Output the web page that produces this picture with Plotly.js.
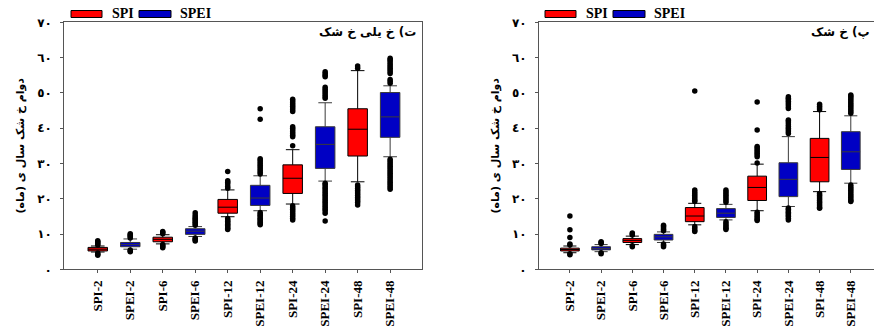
<!DOCTYPE html>
<html>
<head>
<meta charset="utf-8">
<script src="https://cdn.plot.ly/plotly-3.0.1.min.js"></script>
<style>
html,body{margin:0;padding:0;overflow:hidden;background:#fff;}
#chart{width:930px;height:331px;}
</style>
</head>
<body>
<div id="chart"></div>
<script>
// ---------- DATA ----------
const categories = ["SPI-2","SPEI-2","SPI-6","SPEI-6","SPI-12","SPEI-12","SPI-24","SPEI-24","SPI-48","SPEI-48"];
const yTickVals = [0,10,20,30,40,50,60,70];
const yTickText = ["٠","١٠","٢٠","٣٠","٤٠","٥٠","٦٠","٧٠"];
const seriesNames = ["SPI","SPEI"];

// Panel (ت) very dry  — left
const leftTitle = "ت) خ یلی خ شک";
const leftQ1     = [5.2, 6.4, 7.8, 9.9, 15.9, 18.1, 21.5, 28.6, 32.1, 37.4];
const leftMedian = [5.7, 7.0, 8.5, 10.8, 17.6, 20.2, 25.8, 35.4, 39.7, 43.2];
const leftQ3     = [6.2, 7.6, 9.1, 11.5, 19.8, 23.8, 29.6, 40.4, 45.5, 50.1];
const leftLower  = [4.9, 5.7, 7.2, 9.3, 14.9, 16.6, 18.5, 25.0, 24.8, 31.9];
const leftUpper  = [6.6, 8.6, 9.8, 12.1, 22.5, 26.5, 33.9, 47.2, 56.3, 52.0];
const leftOutliers = [
  [6.9,7.2,7.5,7.8,8.1,4.6,4.3,4.0],
  [8.9,9.2,9.5,9.8,10.1,5.5,5.2,5.0],
  [10.1,10.4,10.7,7.0,6.7,6.4,6.1],
  [12.5,12.9,13.3,13.7,14.1,14.5,14.9,15.4,16.0,8.9,8.6,8.3,8.0],
  [23.0,23.5,24.2,24.7,25.1,27.7,14.4,14.0,13.6,13.2,12.8,12.4,12.0,11.6,11.3],
  [27.0,27.5,28.0,28.5,29.0,29.5,30.0,30.5,31.0,31.3,42.5,45.5,16.1,15.7,15.3,14.9,14.5,14.1,13.7,13.3,12.9,12.6],
  [35.0,37.6,38.0,38.5,39.0,39.5,40.0,40.4,44.7,45.2,45.7,46.2,46.7,47.2,47.7,48.2,18.0,17.5,17.0,16.5,16.0,15.5,15.0,14.5,14.0],
  [48.5,49.0,49.5,50.0,50.5,51.0,51.6,54.6,55.0,55.5,56.0,24.4,24.0,23.5,23.0,22.5,22.0,21.5,21.0,20.5,20.0,19.5,19.0,18.5,18.0,17.5,17.0,16.5,15.9,13.7],
  [57.0,57.6,23.9,23.4,22.9,22.4,21.9,21.4,20.9,20.4,19.9,19.4,18.9,18.2],
  [52.7,53.3,53.8,55.5,56.0,56.5,57.0,57.5,58.0,58.5,59.0,59.4,59.8,31.2,30.7,30.2,29.7,29.2,28.7,28.2,27.7,27.2,26.7,26.2,25.7,25.2,24.7,24.2,23.7,23.2,22.7]
];

// Panel (پ) dry — right
const rightTitle = "پ) خ شک";
const rightQ1     = [5.2, 5.5, 7.6, 8.3, 13.5, 14.7, 19.5, 20.6, 24.8, 28.3];
const rightMedian = [5.6, 5.9, 8.2, 9.2, 15.1, 15.9, 23.2, 25.5, 31.7, 33.3];
const rightQ3     = [6.0, 6.4, 8.7, 9.9, 17.5, 17.2, 26.4, 30.2, 37.1, 39.0];
const rightLower  = [4.7, 5.0, 7.0, 7.6, 12.6, 14.0, 16.6, 17.8, 22.0, 24.4];
const rightUpper  = [6.6, 7.0, 9.4, 10.6, 18.7, 18.4, 29.8, 37.6, 44.7, 43.5];
const rightOutliers = [
  [6.9,7.2,9.0,11.2,15.1,4.4,4.1],
  [7.3,7.6,7.8,4.7,4.4],
  [9.7,10.0,10.3,6.7,6.4],
  [10.9,11.3,11.7,12.1,12.5,7.2,6.8,6.4],
  [19.2,19.6,20.0,20.5,21.0,21.5,22.0,22.5,50.5,12.1,11.6,11.1,10.7],
  [19.0,19.5,20.0,20.5,21.0,21.5,22.0,22.5,13.5,13.0,12.5,12.0,11.6,11.3],
  [30.1,31.9,32.4,32.9,33.4,33.9,34.4,34.8,39.5,47.4,16.2,15.7,15.2,14.7,14.2,13.8],
  [38.5,39.0,39.5,40.0,40.5,41.0,41.5,42.0,42.3,45.6,46.1,46.6,47.1,47.6,48.1,48.5,48.9,17.4,17.0,16.6,16.2,15.8,15.4,15.0,14.5,14.0],
  [45.2,45.7,46.2,46.8,21.5,21.0,20.5,20.0,19.5,19.0,18.5,18.0,17.5,17.3],
  [44.2,44.7,45.2,45.7,46.2,46.7,47.2,47.7,48.2,48.7,49.1,49.4,23.9,23.4,22.9,22.4,21.9,21.4,20.9,20.4,19.9,19.5,19.2]
];

const yAxisTitle = "دوام خ شک سال ی (ماه)";

// ---------- BUILD ----------
const W = 930, H = 331;
const px = v => v / W;
const py = v => 1 - v / H;
const colors = {SPI: "#ff0000", SPEI: "#0000c4"};
const lineColors = {SPI: "#000000", SPEI: "#3a3a3a"};
const latin = "Liberation Serif, DejaVu Sans, serif";
const arab = "DejaVu Sans, Liberation Serif, sans-serif";

function panelTraces(q1, med, q3, lo, hi, outs, xa, ya) {
  const traces = [];
  seriesNames.forEach(s => {
    const idx = categories.map((c, i) => i).filter(i => categories[i].split("-")[0] === s);
    traces.push({
      type: "box", name: s, xaxis: xa, yaxis: ya,
      x: idx.map(i => categories[i]),
      q1: idx.map(i => q1[i]), median: idx.map(i => med[i]), q3: idx.map(i => q3[i]),
      lowerfence: idx.map(i => lo[i]), upperfence: idx.map(i => hi[i]),
      boxpoints: false, width: 0.6, whiskerwidth: 0.7,
      fillcolor: colors[s], line: {color: lineColors[s], width: 1},
      showlegend: false, hoverinfo: "skip"
    });
  });
  const ox = [], oy = [];
  outs.forEach((arr, i) => arr.forEach(v => { ox.push(categories[i]); oy.push(v); }));
  traces.push({
    type: "scatter", mode: "markers", xaxis: xa, yaxis: ya, x: ox, y: oy,
    marker: {color: "#000", size: 5.5}, showlegend: false, hoverinfo: "skip"
  });
  return traces;
}

const data = [].concat(
  panelTraces(leftQ1, leftMedian, leftQ3, leftLower, leftUpper, leftOutliers, "x", "y"),
  panelTraces(rightQ1, rightMedian, rightQ3, rightLower, rightUpper, rightOutliers, "x2", "y2")
);

const yDomain = [1 - 269.3 / H, 1 - 22.3 / H];
function xAxis(dom, rng, anchor) {
  return {
    domain: dom, anchor: anchor, type: "category", categoryarray: categories, categoryorder: "array",
    range: rng, showline: true, linecolor: "#555", linewidth: 1, mirror: true,
    ticks: "outside", ticklen: 3, tickcolor: "#555", showgrid: false, zeroline: false,
    tickangle: -90, ticklabelstandoff: 2,
    tickfont: {family: latin, size: 13, color: "#000", weight: "bold"}
  };
}
function yAxis(anchor) {
  return {
    domain: yDomain, anchor: anchor, range: [0, 70], tickvals: yTickVals, ticktext: yTickText,
    showline: true, linecolor: "#555", linewidth: 1, mirror: true,
    ticks: "outside", ticklen: 3, tickcolor: "#555", showgrid: false, zeroline: false,
    ticklabelstandoff: 6,
    tickfont: {family: arab, size: 12, color: "#000", weight: "bold"},
    title: {text: yAxisTitle, standoff: 10, font: {family: arab, size: 11, color: "#000", weight: "bold"}}
  };
}

const shapes = [], annotations = [];
function legend(x0) {
  // swatch rectangles and labels
  const items = [["SPI", x0, x0 + 31, x0 + 39], ["SPEI", x0 + 68, x0 + 100, x0 + 107]];
  items.forEach(([n, a, b, t]) => {
    shapes.push({type: "rect", xref: "paper", yref: "paper", x0: px(a), x1: px(b), y0: py(17.5), y1: py(10.5),
      fillcolor: colors[n], line: {color: "#000", width: 1}});
    annotations.push({xref: "paper", yref: "paper", x: px(t), y: py(14), xanchor: "left", yanchor: "middle",
      text: "<b>" + n + "</b>", showarrow: false, font: {family: latin, size: 14, color: "#000"}});
  });
}
legend(71);
legend(545);
annotations.push({xref: "paper", yref: "paper", x: px(418), y: py(32), xanchor: "right", yanchor: "middle",
  text: "<b>" + leftTitle + "</b>", showarrow: false, font: {family: arab, size: 12, color: "#000"}});
annotations.push({xref: "paper", yref: "paper", x: px(872), y: py(32), xanchor: "right", yanchor: "middle",
  text: "<b>" + rightTitle + "</b>", showarrow: false, font: {family: arab, size: 12, color: "#000"}});

const layout = {
  width: W, height: H, margin: {l: 0, r: 0, t: 0, b: 0},
  paper_bgcolor: "#fff", plot_bgcolor: "#fff", showlegend: false, boxmode: "overlay",
  xaxis: xAxis([px(64.3), px(422.3)], [-1.03, 9.99], "y"),
  yaxis: yAxis("x"),
  xaxis2: xAxis([px(539), px(882)], [-0.99, 10], "y2"),
  yaxis2: yAxis("x2"),
  shapes: shapes, annotations: annotations
};

Plotly.newPlot("chart", data, layout, {staticPlot: true, displayModeBar: false});
</script>
</body>
</html>
